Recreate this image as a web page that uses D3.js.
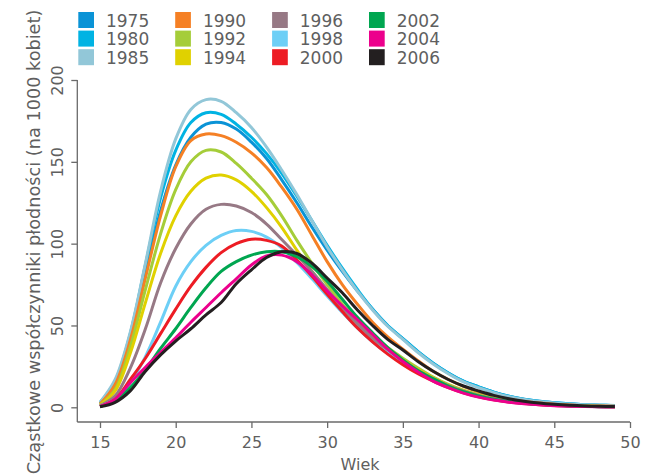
<!DOCTYPE html>
<html>
<head>
<meta charset="utf-8">
<script src="https://cdn.jsdelivr.net/npm/d3@7/dist/d3.min.js"></script>
<style>
  html, body { margin: 0; padding: 0; background: #fff; }
  svg { display: block; }
  text { font-family: "DejaVu Sans", sans-serif; fill: #5f5f5f; }
</style>
</head>
<body>
<svg id="chart" width="658" height="475"></svg>
<script>
// Age-specific fertility rates (births per 1000 women), Poland, by single year of age
const ages = [15,16,17,18,19,20,21,22,23,24,25,26,27,28,29,30,31,32,33,34,35,36,37,38,39,40,41,42,43,44,45,46,47,48,49];

const years = ["1975","1980","1985","1990","1992","1994","1996","1998","2000","2002","2004","2006"];
const colors = ["#0a93d6","#00b3e3","#92c7d8","#f58025","#a5cd39","#e0d100","#977985","#6dcff6","#ed1c24","#00a650","#ec008c","#231f20"];

const rates1975 = [2.5,14,42,82,120,148,165,173,174,170,162,152,139,125,110,96,83,71,60,50,42,34,27,21,16,12.5,9.3,6.8,5,3.7,2.8,2.1,1.6,1.3,1];
const rates1980 = [3,16,45,87,128,157,174,180,179,173,165,155,143,129,114,99,85,72,60,50,42,34,27,21,16,12.5,9.3,6.8,5,3.7,2.8,2.1,1.6,1.3,1.1];
const rates1985 = [3,17,46,88,132,164,182,188,187,180,171,159,145,130,114,98,84,71,59.5,49.5,41.5,33.5,26.5,20.5,15.5,12,9,6.5,4.8,3.5,2.6,2,1.5,1.2,1];
const rates1990 = [2,14,41,79,117,147,163,167,166,162,155.5,146.5,134.5,121,105,89,75,63,52,43,35.5,28.5,22,17,12.8,9.5,7,5,3.6,2.6,1.9,1.4,1,0.8,0.6];
const rates1992 = [1.5,11,37,72,106,133,150,157,156,149,140,130,117,102,88,75,63,53,44,36.5,30,24,18.5,14,10.5,7.8,5.7,4.1,3,2.2,1.6,1.1,0.8,0.6,0.5];
const rates1994 = [1.2,10,33,64,94,117,132,140,142,139,132,122,110,96,83,71,60,50,42,35,29,23,18,13.5,10,7.4,5.4,3.9,2.8,2,1.4,1,0.7,0.5,0.4];
const rates1996 = [1,7,24,48,76,97,112,121,124,123,119,112,102.5,93,83,72,61,51,42,35,28.5,22.5,17.5,13.2,9.8,7.2,5.2,3.7,2.6,1.8,1.3,0.9,0.6,0.5,0.4];
const rates1998 = [0.8,5,15,31,52,74,89,99,105,108,107.5,104,97.5,88.5,78.5,68,58,48.5,40,33,27,21.5,16.5,12.5,9.2,6.7,4.8,3.4,2.4,1.7,1.2,0.8,0.6,0.4,0.3];
const rates2000 = [0.6,5,17,30,45,60,74,85.5,94.5,100,102.7,102,98.5,90,80,69,58.5,48.5,40,32.5,26,20.5,16,12,8.8,6.4,4.6,3.2,2.3,1.6,1.1,0.8,0.5,0.4,0.3];
const rates2002 = [0.5,4,12,23,36,48,61,73,83,89,93,95,95,92,86,77,66,55,45.5,36.5,29,22.5,17.5,13,9.5,7,5,3.5,2.5,1.8,1.2,0.8,0.6,0.4,0.3];
const rates2004 = [0.5,5,15,24.5,33.5,42.5,52,61,70,78.5,87,92.5,93,89,81,71,62,53.5,44.5,35.5,28,21.5,16,12,8.7,6.2,4.4,3.1,2.2,1.5,1,0.7,0.5,0.3,0.2];
const rates2006 = [0.3,3,10,22,32,40.5,48,56.5,64,75.5,84,91.5,95,94,88,79,70,59.5,50,41.5,35,28,22,17,13,10,7.3,5.2,3.7,2.6,1.8,1.2,0.8,0.6,0.5];

const xTicks = [15,20,25,30,35,40,45,50];
const yTicks = [0,50,100,150,200];

const xTitle = "Wiek";
const yTitle = "Cząstkowe współczynniki płodności (na 1000 kobiet)";

const series = [rates1975,rates1980,rates1985,rates1990,rates1992,rates1994,rates1996,rates1998,rates2000,rates2002,rates2004,rates2006];

const svg = d3.select("#chart");
const axisColor = "#6a6a6a";

const x = d3.scaleLinear().domain([15, 50]).range([100, 630]);
const y = d3.scaleLinear().domain([0, 200]).range([407.3, 80]);

// L-shaped frame: left edge and bottom edge of the plotting region
const frameLeft = 77.3, frameBottom = 422;
svg.append("line")
  .attr("x1", frameLeft).attr("x2", frameLeft)
  .attr("y1", y(200)).attr("y2", frameBottom)
  .attr("stroke", axisColor).attr("stroke-width", 1.3);
svg.append("line")
  .attr("x1", frameLeft).attr("x2", x(50))
  .attr("y1", frameBottom).attr("y2", frameBottom)
  .attr("stroke", axisColor).attr("stroke-width", 1.3);

// x axis ticks and labels
const gx = svg.append("g")
  .attr("transform", `translate(0,${frameBottom})`)
  .call(d3.axisBottom(x).tickValues(xTicks).tickSize(6).tickSizeOuter(0).tickPadding(4));
gx.select(".domain").remove();
gx.selectAll(".tick line").attr("stroke", axisColor).attr("stroke-width", 1.3);
gx.selectAll(".tick text")
  .attr("dy", null).attr("y", 26)
  .style("font-size", "16px").style("font-family", "DejaVu Sans, sans-serif").attr("fill", "#5f5f5f");

// y axis ticks and rotated labels
const gy = svg.append("g")
  .attr("transform", `translate(${frameLeft},0)`)
  .call(d3.axisLeft(y).tickValues(yTicks).tickSize(6).tickSizeOuter(0));
gy.select(".domain").remove();
gy.selectAll(".tick line").attr("stroke", axisColor).attr("stroke-width", 1.3);
gy.selectAll(".tick text")
  .attr("transform", "rotate(-90)")
  .attr("x", 0).attr("y", -14.8).attr("dy", null)
  .attr("text-anchor", "middle")
  .style("font-size", "16px").style("font-family", "DejaVu Sans, sans-serif").attr("fill", "#5f5f5f");

// axis titles
svg.append("text")
  .attr("x", 360).attr("y", 470)
  .attr("text-anchor", "middle")
  .style("font-size", "16px")
  .text(xTitle);
svg.append("text")
  .attr("transform", "translate(40,242) rotate(-90)")
  .attr("text-anchor", "middle")
  .style("font-size", "17.7px")
  .text(yTitle);

// fertility curves
const line = d3.line()
  .x((d, i) => x(ages[i]))
  .y(d => y(d))
  .curve(d3.curveCatmullRom.alpha(0.5));

svg.append("g")
  .selectAll("path")
  .data(series)
  .join("path")
  .attr("d", d => line(d))
  .attr("fill", "none")
  .attr("stroke", (d, i) => colors[i])
  .attr("stroke-width", 3)
  .attr("stroke-linejoin", "round");

// legend: four columns of three entries
const legend = svg.append("g");
const colX = [78.3, 175.2, 272.1, 369];
const rowY = [12, 30.6, 49.2];
years.forEach((yr, i) => {
  const c = Math.floor(i / 3), r = i % 3;
  const g = legend.append("g").attr("transform", `translate(${colX[c]},${rowY[r]})`);
  g.append("rect").attr("width", 15.7).attr("height", 16).attr("fill", colors[i]);
  g.append("text").attr("x", 27.7).attr("y", 14.6)
    .style("font-size", "17px").text(yr);
});
</script>
</body>
</html>
